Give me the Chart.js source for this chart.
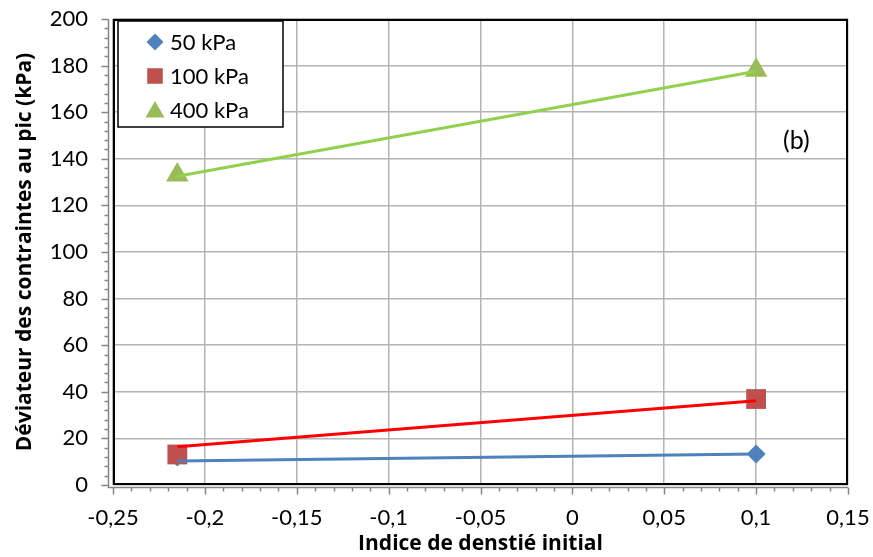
<!DOCTYPE html>
<html>
<head>
<meta charset="utf-8">
<script src="https://cdn.jsdelivr.net/npm/chart.js@4.4.1/dist/chart.umd.min.js"></script>
<style>
  html, body { margin: 0; padding: 0; background: #fff; }
  #wrap { width: 873px; height: 557px; position: relative; }
</style>
</head>
<body>
<div id="wrap"><canvas id="chart" width="873" height="557"></canvas></div>
<script>
// values
const xValues = [-0.215, 0.1];
const labels = ['50 kPa', '100 kPa', '400 kPa'];
const pts50 = [12, 13.3];
const pts100 = [13.1, 36.9];
const pts400 = [133, 178];
// trend lines drawn through the points
const trend50 = [10.3, 13.3];
const trend100 = [16.4, 36.2];
const trend400 = [132.5, 177.6];

const FONT = 'Lato, "Open Sans", sans-serif';
const TITLE_FONT = '"Open Sans", Lato, sans-serif';
const AXIS_GRAY = '#868686';

const toXY = arr => arr.map((v, i) => ({ x: xValues[i], y: v }));

const markers = [
    { label: labels[0], data: toXY(pts50), style: 'rectRot', radius: 9.5, color: '#4f81bd', order: 3 },
    { label: labels[1], data: toXY(pts100), style: 'rect', radius: 14, color: '#c0504d', order: 2 },
    { label: labels[2], data: toXY(pts400), style: 'triangle', radius: 13, color: '#9bbb59', order: 1 }
];
const trends = [
    { data: toXY(trend50), color: '#4f81bd' },
    { data: toXY(trend100), color: '#ff0000' },
    { data: toXY(trend400), color: '#92d050' }
];

const datasets = [];
markers.forEach(m => datasets.push({
    label: m.label, data: m.data, showLine: false, order: m.order,
    pointStyle: m.style, pointRadius: m.radius, pointHoverRadius: m.radius,
    backgroundColor: m.color, borderColor: m.color, borderWidth: 0
}));
trends.forEach(t => datasets.push({
    label: '', data: t.data, showLine: true, order: 0,
    borderColor: t.color, borderWidth: 3, pointRadius: 0, fill: false
}));

// axis lines with major/minor ticks, plot border, legend box and "(b)"
const extras = {
    id: 'extras',
    afterDraw(chart) {
        const ctx = chart.ctx, a = chart.chartArea;
        const xs = chart.scales.x, ys = chart.scales.y;
        const axX = a.left - 4.5, axY = a.bottom + 2.5;
        ctx.save();
        ctx.strokeStyle = AXIS_GRAY;
        ctx.lineWidth = 1.5;
        ctx.beginPath();
        ctx.moveTo(axX, a.top); ctx.lineTo(axX, axY);
        ctx.lineTo(a.right, axY);
        for (let v = 0; v <= 200; v += 4) {
            const y = Math.round(ys.getPixelForValue(v)) + 0.5;
            ctx.moveTo(axX - (v % 20 === 0 ? 7 : 4), y); ctx.lineTo(axX, y);
        }
        for (let i = -25; i <= 15; i++) {
            const x = Math.round(xs.getPixelForValue(i / 100)) + 0.5;
            ctx.moveTo(x, axY); ctx.lineTo(x, axY + (i % 5 === 0 ? 7 : 4));
        }
        ctx.stroke();

        ctx.strokeStyle = '#000';
        ctx.lineWidth = 2;
        ctx.strokeRect(a.left + 1, a.top + 1, a.right - a.left - 2, a.bottom - a.top - 2);

        // legend
        ctx.fillStyle = '#fff';
        ctx.fillRect(118, 21, 165, 106);
        ctx.lineWidth = 1.5;
        ctx.strokeRect(118, 21, 165, 106);
        ctx.font = '22px ' + FONT;
        ctx.textBaseline = 'middle';
        markers.forEach((m, i) => {
            const y = 42 + i * 34;
            ctx.fillStyle = m.color;
            Chart.helpers.drawPoint(ctx, {
                pointStyle: m.style, radius: m.style === 'rect' ? 11 : (m.style === 'triangle' ? 11 : 8.5),
                rotation: 0, borderWidth: 0
            }, 155, y + (m.style === 'triangle' ? 2 : 0));
            ctx.fillStyle = '#000';
            ctx.fillText(m.label, 170, y + 1);
        });

        ctx.font = '25px ' + FONT;
        ctx.fillText('(b)', 783, 141);
        ctx.restore();
    }
};

new Chart(document.getElementById('chart'), {
    type: 'scatter',
    data: { datasets },
    plugins: [extras],
    options: {
        responsive: false,
        animation: false,
        events: [],
        layout: { padding: { top: 19, right: 25, left: 0, bottom: 0 } },
        plugins: { legend: { display: false }, tooltip: { enabled: false } },
        scales: {
            x: {
                type: 'linear', min: -0.25, max: 0.15,
                afterFit: s => { s.height = 72; s.paddingLeft = 0; s.paddingRight = 0; },
                ticks: {
                    stepSize: 0.05, color: '#000', padding: 20,
                    font: { family: FONT, size: 22 },
                    callback: v => (Math.round(v * 100) / 100).toString().replace('.', ',')
                },
                grid: { color: '#b4b4b4', lineWidth: 1.5, drawTicks: false },
                border: { display: false },
                title: {
                    display: true, text: 'Indice de denstié initial', color: '#000',
                    font: { family: TITLE_FONT, size: 21, weight: 'bold' }, padding: { top: 0, bottom: 0 }
                }
            },
            y: {
                min: 0, max: 200,
                afterFit: s => { s.width = 113; s.paddingTop = 0; s.paddingBottom = 0; },
                ticks: {
                    stepSize: 20, color: '#000', padding: 25,
                    font: { family: FONT, size: 22 }
                },
                grid: { color: '#b4b4b4', lineWidth: 1.5, drawTicks: false },
                border: { display: false },
                title: {
                    display: true, text: 'Déviateur des contraintes au pic (kPa)', color: '#000',
                    font: { family: TITLE_FONT, size: 21, weight: 'bold' }, padding: { top: 12, bottom: 0 }
                }
            }
        }
    }
});
</script>
</body>
</html>
